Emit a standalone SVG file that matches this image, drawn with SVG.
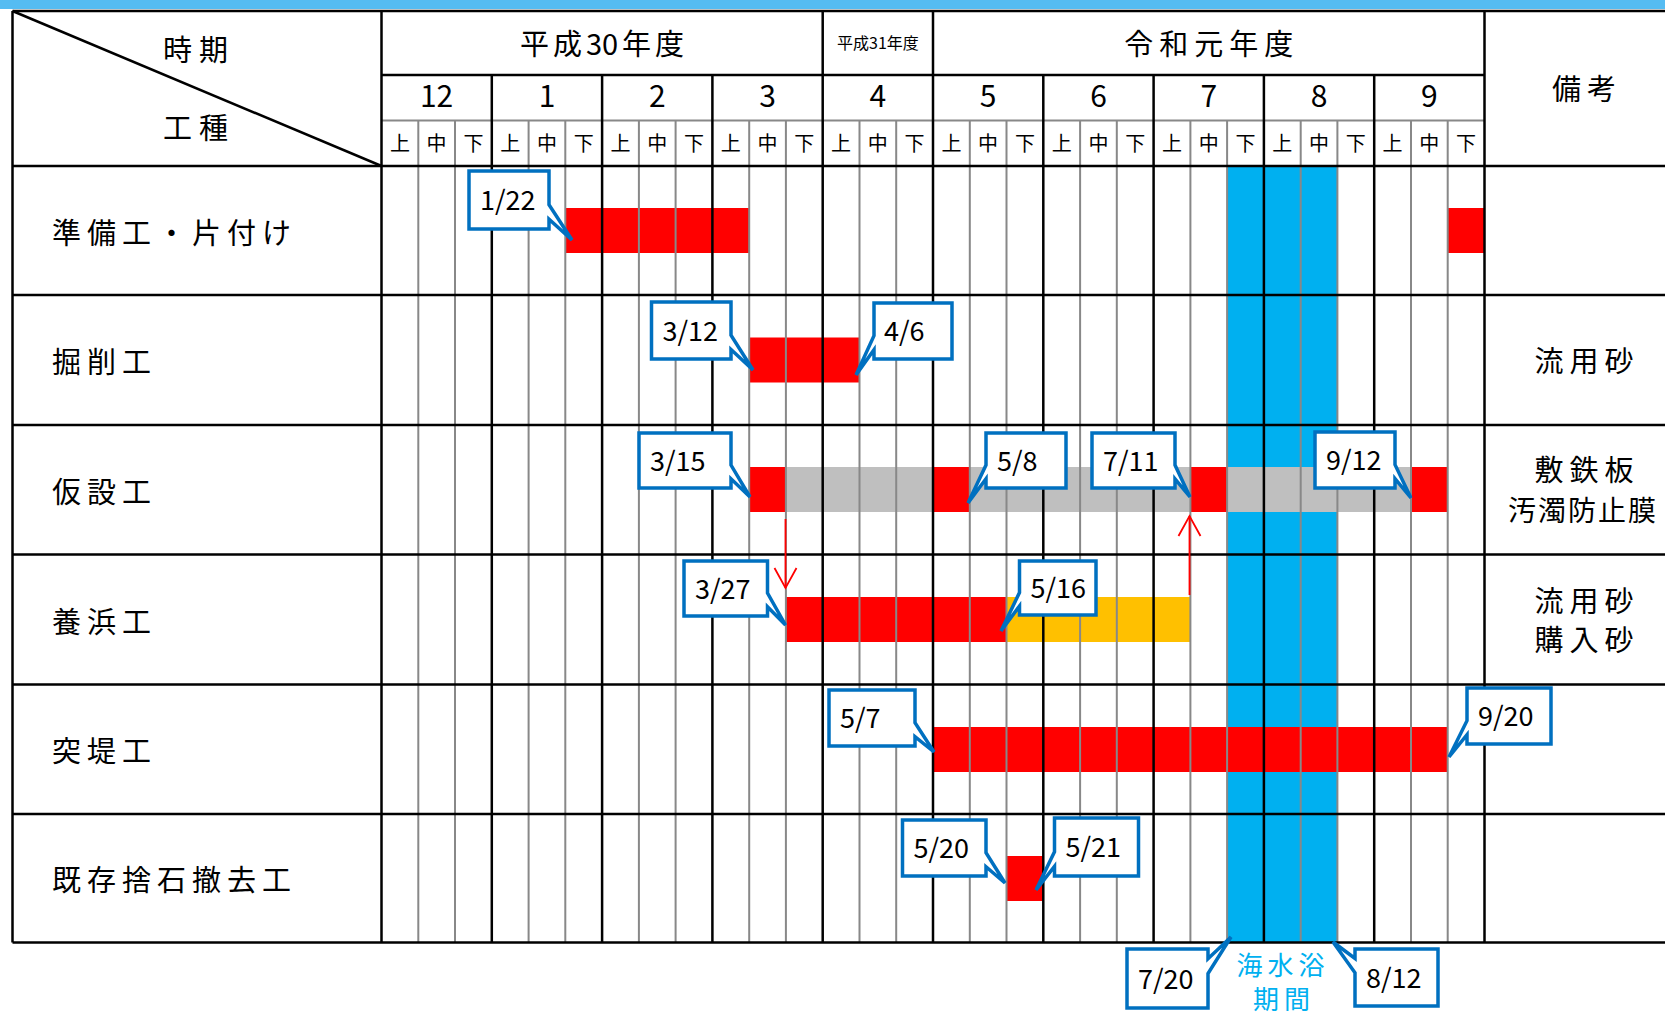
<svg xmlns="http://www.w3.org/2000/svg" width="1665" height="1013" viewBox="0 0 1665 1013">
<style>
text{font-family:"Noto Sans CJK JP","Noto Sans CJK SC",sans-serif;fill:#000}
.blk{stroke:#000;stroke-width:2.5;fill:none}
.gry{stroke:#888;stroke-width:2;fill:none}
.red{fill:#FF0000}
.gray{fill:#BFBFBF}
.org{fill:#FFC000}
.sea{fill:#00B0F0}
.co path{fill:#fff;stroke:#0070C0;stroke-width:3.5;stroke-linejoin:miter}
.co text{font-size:27px}
.lbl{font-size:29px;letter-spacing:6px}
.rem{font-size:29px;letter-spacing:6px;text-anchor:middle}
.mon{font-size:30px;text-anchor:middle}
.dec{font-size:20px;text-anchor:middle}
.arr{stroke:#FF0000;stroke-width:1.8;fill:none}
</style>
<defs>
<marker id="openHead" markerUnits="userSpaceOnUse" markerWidth="24" markerHeight="26" viewBox="0 0 24 26" refX="21" refY="13" orient="auto">
<path d="M1 2 L21 13 L1 24" fill="none" stroke="#FF0000" stroke-width="1.8"/>
</marker>
</defs>
<rect x="0" y="0" width="1665" height="1013" fill="#fff"/>
<rect x="0" y="0" width="1665" height="9" fill="#55BCF2"/>

<!-- sea bathing period -->
<rect class="sea" x="1227.1" y="166" width="110.3" height="776.5"/>

<!-- bars -->
<g id="bars">
<rect class="red" x="565.3" y="208" width="183.9" height="45"/>
<rect class="red" x="1447.7" y="208" width="36.8" height="45"/>
<rect class="red" x="749.2" y="337.5" width="110.3" height="45"/>
<rect class="gray" x="785.9" y="467" width="625.1" height="45"/>
<rect class="red" x="749.2" y="467" width="36.7" height="45"/>
<rect class="red" x="933" y="467" width="36.8" height="45"/>
<rect class="red" x="1190.4" y="467" width="36.7" height="45"/>
<rect class="red" x="1411" y="467" width="36.7" height="45"/>
<rect class="red" x="785.9" y="597" width="220.6" height="45"/>
<rect class="org" x="1006.5" y="597" width="183.9" height="45"/>
<rect class="red" x="933" y="727" width="514.7" height="45"/>
<rect class="red" x="1006.5" y="856" width="36.8" height="45"/>
</g>

<!-- grid -->
<g id="grid">
<path class="gry" d="M418.3 120.5V942.5M455 120.5V942.5M528.6 120.5V942.5M565.3 120.5V942.5M638.9 120.5V942.5M675.6 120.5V942.5M749.2 120.5V942.5M785.9 120.5V942.5M859.5 120.5V942.5M896.2 120.5V942.5M969.8 120.5V942.5M1006.5 120.5V942.5M1080.1 120.5V942.5M1116.8 120.5V942.5M1190.4 120.5V942.5M1227.1 120.5V942.5M1300.7 120.5V942.5M1337.4 120.5V942.5M1411 120.5V942.5M1447.7 120.5V942.5"/>
<path class="gry" d="M381.5 120.5H1484.5" stroke-width="2.5"/>
<path class="blk" d="M491.8 75V942.5M602.1 75V942.5M712.4 75V942.5M1043.3 75V942.5M1153.6 75V942.5M1263.9 75V942.5M1374.2 75V942.5"/>
<path class="blk" d="M822.7 11V942.5M933 11V942.5M381.5 11V942.5M1484.5 11V942.5M12.5 11V942.5"/>
<path class="blk" d="M12.5 11H1665M381.5 75H1484.5M12.5 166H1665M12.5 295H1665M12.5 425H1665M12.5 554.5H1665M12.5 684.5H1665M12.5 814H1665"/>
<path class="blk" d="M12.5 942.5H1665" stroke-width="3"/>
<path class="blk" d="M12.5 11L381.5 166" stroke-width="2"/>
</g>

<!-- header texts -->
<g id="header">
<text x="199" y="60.5" font-size="29" letter-spacing="7" text-anchor="middle">時期</text>
<text x="199" y="138.5" font-size="29" letter-spacing="7" text-anchor="middle">工種</text>
<text x="604" y="54.5" font-size="29" letter-spacing="4" text-anchor="middle">平成<tspan letter-spacing="0">3</tspan>0年度</text>
<text x="878" y="48.5" font-size="16" text-anchor="middle">平成31年度</text>
<text x="1211.7" y="54.5" font-size="29" letter-spacing="6" text-anchor="middle">令和元年度</text>
<text class="rem" x="1587" y="99.5">備考</text>
<text class="mon" x="436.6" y="107">12</text>
<text class="mon" x="547" y="107">1</text>
<text class="mon" x="657.3" y="107">2</text>
<text class="mon" x="767.6" y="107">3</text>
<text class="mon" x="877.9" y="107">4</text>
<text class="mon" x="988.2" y="107">5</text>
<text class="mon" x="1098.5" y="107">6</text>
<text class="mon" x="1208.8" y="107">7</text>
<text class="mon" x="1319.1" y="107">8</text>
<text class="mon" x="1429.4" y="107">9</text>
<g class="dec">
<text x="399.9" y="151">上</text><text x="436.6" y="151">中</text><text x="473.4" y="151">下</text>
<text x="510.2" y="151">上</text><text x="546.9" y="151">中</text><text x="583.7" y="151">下</text>
<text x="620.5" y="151">上</text><text x="657.2" y="151">中</text><text x="694" y="151">下</text>
<text x="730.8" y="151">上</text><text x="767.5" y="151">中</text><text x="804.3" y="151">下</text>
<text x="841.1" y="151">上</text><text x="877.8" y="151">中</text><text x="914.6" y="151">下</text>
<text x="951.4" y="151">上</text><text x="988.1" y="151">中</text><text x="1024.9" y="151">下</text>
<text x="1061.7" y="151">上</text><text x="1098.4" y="151">中</text><text x="1135.2" y="151">下</text>
<text x="1172" y="151">上</text><text x="1208.7" y="151">中</text><text x="1245.5" y="151">下</text>
<text x="1282.3" y="151">上</text><text x="1319" y="151">中</text><text x="1355.8" y="151">下</text>
<text x="1392.6" y="151">上</text><text x="1429.3" y="151">中</text><text x="1466.1" y="151">下</text>
</g>
</g>

<!-- rows -->
<g id="row1"><text class="lbl" x="52" y="244">準備工・片付け</text></g>
<g id="row2"><text class="lbl" x="52" y="373">掘削工</text><text class="rem" x="1587" y="372">流用砂</text></g>
<g id="row3"><text class="lbl" x="52" y="503">仮設工</text><text class="rem" x="1587" y="481">敷鉄板</text><text class="rem" x="1583" y="521" style="letter-spacing:2px;font-size:28px">汚濁防止膜</text></g>
<g id="row4"><text class="lbl" x="52" y="632.5">養浜工</text><text class="rem" x="1587" y="612">流用砂</text><text class="rem" x="1587" y="651">購入砂</text></g>
<g id="row5"><text class="lbl" x="52" y="762">突堤工</text></g>
<g id="row6"><text class="lbl" x="52" y="891">既存捨石撤去工</text></g>

<!-- connectors -->
<g id="connectors">
<path class="arr" d="M785.5 519V588" marker-end="url(#openHead)"/>
<path class="arr" d="M1189.5 595V516" marker-end="url(#openHead)"/>
</g>

<!-- callouts -->
<g id="c-0122" class="co"><path d="M469 171H549V204.8L572 240L549 219.3V229H469Z"/><text x="480" y="210">1/22</text></g>
<g id="c-0312" class="co"><path d="M651.5 302H731V335.3L753 370L731 349.5V359H651.5Z"/><text x="662.5" y="340.5">3/12</text></g>
<g id="c-0406" class="co"><path d="M874 303H952V359H874V349.7L856 375L874 335.7Z"/><text x="884" y="341">4/6</text></g>
<g id="c-0315" class="co"><path d="M639 433H731V465.1L750 497L731 478.8V488H639Z"/><text x="650" y="470.5">3/15</text></g>
<g id="c-0508" class="co"><path d="M986 433H1066V488H986V478.8L968 503L986 465.1Z"/><text x="997" y="470.5">5/8</text></g>
<g id="c-0711" class="co"><path d="M1092 433H1175V465.1L1190 497L1175 478.8V488H1092Z"/><text x="1103" y="470.5">7/11</text></g>
<g id="c-0912" class="co"><path d="M1315 432H1395V464.7L1411 498L1395 478.7V488H1315Z"/><text x="1326" y="470">9/12</text></g>
<g id="c-0327" class="co"><path d="M684 561H767.5V593.1L785.5 625L767.5 606.8V616H684Z"/><text x="695" y="598.5">3/27</text></g>
<g id="c-0516" class="co"><path d="M1019.5 561H1096V615H1019.5V606L1001 631L1019.5 592.5Z"/><text x="1030.5" y="598">5/16</text></g>
<g id="c-0507" class="co"><path d="M829 690H915V722.7L934 752L915 736.7V746H829Z"/><text x="840" y="728">5/7</text></g>
<g id="c-0920" class="co"><path d="M1467 688H1551V744H1467V734.7L1449 757L1467 720.7Z"/><text x="1478" y="726">9/20</text></g>
<g id="c-0520" class="co"><path d="M902.5 820H986V852.7L1005 883L986 866.7V876H902.5Z"/><text x="913.5" y="858">5/20</text></g>
<g id="c-0521" class="co"><path d="M1054.5 818H1138.5V876H1054.5V866.3L1036 890L1054.5 851.8Z"/><text x="1065.5" y="857">5/21</text></g>
<g id="c-0720" class="co"><path d="M1127 949H1208V958.8L1231 937L1208 973.6V1008H1127Z"/><text x="1138" y="988.5">7/20</text></g>
<g id="c-0812" class="co"><path d="M1355 949H1438V1006H1355V972.8L1333 942L1355 958.5Z"/><text x="1366" y="987.5">8/12</text></g>

<g id="sea-label">
<text x="1283" y="975" font-size="26" letter-spacing="5" text-anchor="middle" style="fill:#00B0F0">海水浴</text>
<text x="1284" y="1009" font-size="26" letter-spacing="5" text-anchor="middle" style="fill:#00B0F0">期間</text>
</g>
</svg>
